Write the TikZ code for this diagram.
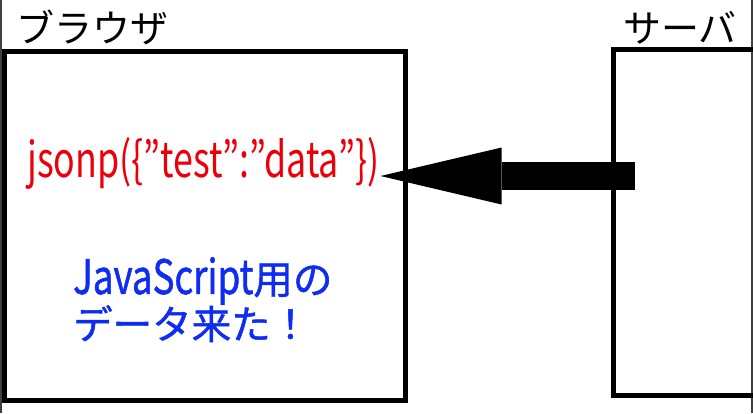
\documentclass[tikz,border=0pt]{standalone}
\usepackage{fontspec}
\setmainfont{Noto Sans CJK JP}
\newfontfamily\msgfont[FakeBold=1.2]{Noto Sans CJK JP}
\usetikzlibrary{arrows.meta}
\definecolor{jsonred}{RGB}{235,0,10}
\definecolor{msgblue}{RGB}{15,45,240}
\newcommand{\latinwide}[1]{\scalebox{0.93}[1.2]{#1}}

\begin{document}
\begin{tikzpicture}[x=1pt,y=-1pt,
    box/.style={draw,line width=5pt,inner sep=0pt},
    title/.style={font=\fontsize{38}{40}\selectfont,inner sep=0pt,anchor=base west},
    bigarrow/.style={line width=28pt,-{Triangle[length=121pt,width=57pt,line width=0pt]}}]
    \useasboundingbox (0,0) rectangle (753,413);
    %% Draw the frame edges
    \draw[line width=1.5pt,black!75] (1,0) -- (1,413);
    \draw[line width=1.5pt,black!75] (752,0) -- (752,413);
    %% Draw the boxes
    \node[box,minimum width=400.5pt,minimum height=349pt] (browser) at (204.75,226) {};
    \node[box,minimum width=160pt,minimum height=346.5pt] (server) at (693,222.25) {};
    %% Draw the titles
    \node[title] (browsertitle) at (16,42) {ブラウザ};
    \node[title] (servertitle) at (623,42) {サーバ};
    %% Draw the texts
    \node[font=\fontsize{49}{50}\selectfont,text=jsonred,inner sep=0pt,anchor=base west]
      (json) at (27,177) {\scalebox{0.73}[1]{jsonp(\{”test”:”data”\})}};
    \node[font=\msgfont\fontsize{39.5}{45}\selectfont,text=msgblue,align=left,inner sep=0pt,anchor=north west]
      (msg) at (73,257) {\latinwide{JavaScript}用の\\データ来た！};
    %% Draw the arrow
    \coordinate (push) at (635,176);
    \draw[bigarrow] (push) -- ([xshift=1pt]push -| json.east);
  \end{tikzpicture}
\end{document}
